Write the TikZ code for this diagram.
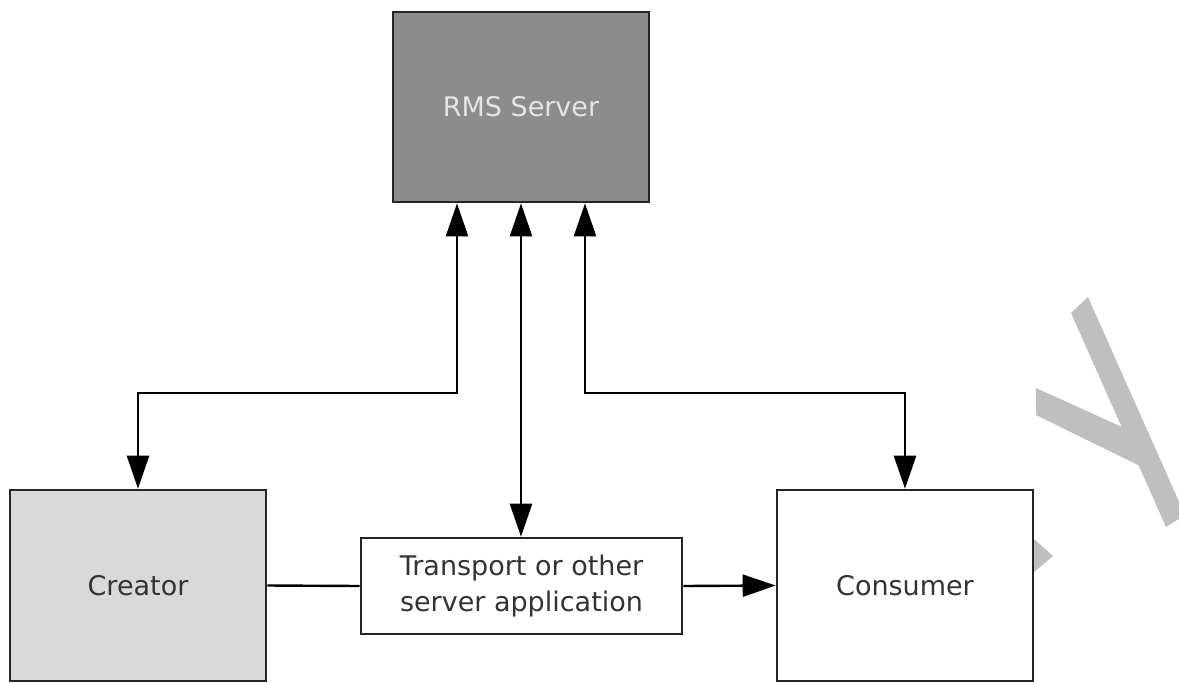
\documentclass[tikz,border=0pt]{standalone}
\usepackage{fontspec}
\setmainfont{DejaVu Sans}
\usetikzlibrary{arrows.meta}
\begin{document}
\begin{tikzpicture}[x=1pt,y=-1pt,
  box/.style={draw=black!85,line width=2.6pt,inner sep=0pt,align=center,
    font=\fontsize{27}{36}\selectfont,text=black!80},
  conn/.style={line width=2.4pt,black},
  tip/.style={-{Triangle[length=33pt,width=22pt]}},
  dtip/.style={{Triangle[length=33pt,width=22pt]}-{Triangle[length=33pt,width=22pt]}},
  wmark/.style={fill=black!25,draw=none}]
\useasboundingbox (0,0) rectangle (1179,683);
\begin{scope}
\clip (0,0) rectangle (1179,683);
\fill[wmark] (1071,313) -- (1088,297) -- (1185,515) -- (1166,527) -- cycle;
\fill[wmark] (1036,388) -- (1122,427) -- (1140,466) -- (1036,415) -- cycle;
\fill[wmark] (1033,538) -- (1053,556) -- (1033,573) -- cycle;
\end{scope}
\node[box,fill=black!45,text=black!10,minimum width=256pt,minimum height=190pt] (rms) at (521,107) {RMS Server};
\node[box,fill=black!15,minimum width=256pt,minimum height=191pt] (creator) at (138,585.5) {Creator};
\node[box,fill=white,minimum width=256pt,minimum height=191pt] (consumer) at (905,585.5) {Consumer};
\node[box,fill=white,minimum width=321pt,minimum height=96pt] (transport) at (521.5,586) {Transport or other\\server application};
\coordinate (hl) at (0,393);
\draw[conn,dtip] ([xshift=-64pt]rms.south) |- (hl -| creator.north) -- (creator.north);
\draw[conn,dtip] ([xshift=64pt]rms.south) |- (hl -| consumer.north) -- (consumer.north);
\draw[conn,dtip] (rms.south) -- (rms.south |- transport.north);
\draw[conn] (creator.east) -- (transport.west);
\draw[conn,tip] (transport.east) -- (consumer.west);
\end{tikzpicture}
\end{document}
